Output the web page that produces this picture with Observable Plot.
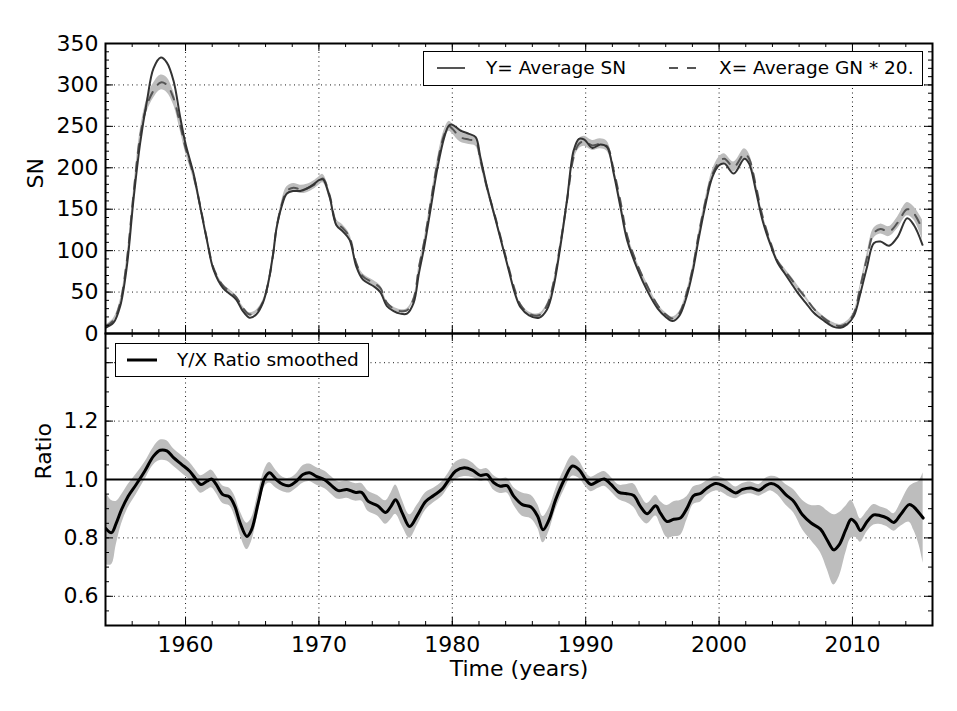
<!DOCTYPE html>
<html><head><meta charset="utf-8">
<script src="https://cdn.jsdelivr.net/npm/d3@7"></script>
<script src="https://cdn.jsdelivr.net/npm/@observablehq/plot@0.6"></script>
<style>
body{margin:0;background:#fff;}
#wrap{position:relative;width:957px;height:711px;font-family:"DejaVu Sans",sans-serif;overflow:hidden;}
#top,#bot{position:absolute;left:0;}
#top{top:0}
#bot{top:333px}
.legend{position:absolute;background:#fff;border:1.5px solid #000;box-sizing:border-box;font-size:18.5px;color:#000;}
.legend span{position:absolute;top:0;line-height:31px;white-space:pre;}
.legend svg{position:absolute;left:0;top:0;}
</style></head><body>
<div id="wrap">
  <div id="top"></div>
  <div id="bot"></div>
  <div class="legend" style="left:423px;top:51px;width:500px;height:35px;">
    <svg width="500" height="35"><line x1="13" x2="41" y1="16" y2="16" stroke="#555" stroke-width="2"/>
    <line x1="245" x2="272" y1="16" y2="16" stroke="#555" stroke-width="2" stroke-dasharray="9,9"/></svg>
    <span style="left:62px">Y= Average SN</span>
    <span style="left:295px">X= Average GN * 20.</span>
  </div>
  <div class="legend" style="left:115px;top:343px;width:254px;height:34px;">
    <svg width="254" height="34"><line x1="11" x2="41" y1="16" y2="16" stroke="#000" stroke-width="3"/></svg>
    <span style="left:61px">Y/X Ratio smoothed</span>
  </div>
</div>
<script>
// ---- data: top panel (SN and GN*20) ----
const years = [
 1954.0,1954.6,1955.1,1955.6,1956.1,1956.6,1957.1,1957.6,1958.15,1958.6,
 1959.1,1959.6,1960.0,1960.6,1961.1,1961.6,1962.1,1962.8,1963.3,1963.8,
 1964.3,1964.8,1965.3,1965.8,1966.2,1966.6,1966.8,1967.2,1967.6,1968.1,
 1968.6,1969.1,1969.6,1970.0,1970.3,1970.8,1971.3,1971.8,1972.3,1972.8,
 1973.3,1974.1,1974.6,1975.1,1975.6,1976.1,1976.6,1977.1,1977.5,1977.9,
 1978.4,1978.9,1979.4,1979.75,1980.0,1980.6,1981.25,1981.75,1982.1,1982.6,
 1983.25,1983.9,1984.25,1984.7,1985.1,1985.75,1986.5,1987.1,1987.6,1988.1,
 1988.6,1989.1,1989.5,1989.9,1990.5,1991.1,1991.6,1992.1,1992.6,1993.1,
 1993.9,1994.6,1995.4,1996.0,1996.5,1997.0,1997.5,1998.0,1998.5,1999.0,
 1999.5,2000.0,2000.4,2001.1,2001.9,2002.25,2002.75,2003.25,2003.9,2004.4,
 2004.9,2005.4,2005.9,2006.5,2007.1,2007.9,2008.6,2009.1,2009.6,2010.1,
 2010.6,2011.1,2011.6,2012.1,2012.75,2013.4,2014.1,2014.6,2015.25];
const snAvg = [
 7,13,33,81,162,230,280,320,333,327,
 305,261,229,193,153,113,77,55,48,41,
 27,19,23,37,61,100,125,153,169,172,
 172,175,180,185,186,165,131,123,113,81,
 65,57,50,33,27,24,24,37,73,105,
 153,201,237,251,252,245,241,237,213,177,
 137,97,75,48,32,22,19,29,57,105,
 161,221,235,234,224,228,225,193,153,113,
 77,52,30,20,15,21,41,73,117,157,
 189,203,205,193,211,205,173,137,105,85,
 73,61,49,37,25,15,8,7,11,21,
 49,81,109,111,106,117,139,131,107];
const gnAvg20 = [
 8,16,37,88,168,238,275,293,303,300,
 284,252,224,191,154,114,79,58,51,44,
 31,23,26,38,61,99,125,155,172,176,
 174,175,179,184,187,167,134,127,116,85,
 69,61,55,37,30,27,28,42,80,111,
 160,207,240,250,247,237,234,232,210,176,
 139,99,78,52,35,24,22,34,62,108,
 160,213,229,232,227,229,226,197,160,119,
 82,58,34,23,18,24,45,77,122,161,
 192,207,211,201,217,211,179,142,108,87,
 76,66,55,43,30,18,11,9,13,24,
 57,92,121,126,123,134,150,145,125];
const gnErr = [
 2,2,3,4,5,7,8,9,9,9,
 8,7,6,5,4,3,3,2,2,2,
 2,2,2,2,2,3,3,4,5,5,
 5,5,5,5,5,5,4,4,4,3,
 3,3,3,2,2,2,2,2,3,3,
 4,5,6,6,6,6,6,6,5,4,
 4,3,3,2,2,2,2,2,2,3,
 4,5,6,6,6,6,6,5,4,3,
 3,3,2,2,2,2,2,3,3,4,
 5,6,6,6,6,6,5,4,3,3,
 3,3,3,2,2,2,2,2,2,2,
 3,5,6,6,6,7,8,8,12];

// ---- data: bottom panel (smoothed ratio) ----
const ratioYears = [
 1954.0,1954.45,1954.8,1955.2,1955.7,1956.3,1956.95,1957.6,1958.1,1958.6,
 1959.1,1959.7,1960.3,1960.7,1961.15,1961.6,1961.95,1962.3,1962.8,1963.3,
 1963.7,1964.1,1964.6,1964.95,1965.45,1965.95,1966.3,1966.8,1967.3,1967.8,
 1968.3,1968.8,1969.3,1969.8,1970.45,1970.95,1971.45,1972.1,1972.7,1973.2,
 1973.7,1974.4,1975.0,1975.4,1975.75,1976.25,1976.8,1977.4,1978.0,1978.6,
 1979.25,1979.75,1980.25,1980.9,1981.5,1982.1,1982.6,1983.1,1983.6,1984.1,
 1984.6,1985.25,1985.9,1986.4,1986.8,1987.25,1987.75,1988.4,1989.0,1989.5,
 1990.0,1990.4,1990.9,1991.4,1991.9,1992.5,1993.0,1993.6,1994.1,1994.6,
 1995.25,1995.6,1996.1,1996.6,1997.1,1997.6,1998.1,1998.6,1999.1,1999.75,
 2000.25,2000.75,2001.25,2001.75,2002.4,2003.0,2003.5,2003.9,2004.4,2005.0,
 2005.6,2006.25,2006.9,2007.6,2008.1,2008.6,2009.0,2009.5,2009.9,2010.25,
 2010.6,2011.1,2011.6,2012.1,2012.6,2013.1,2013.6,2014.25,2014.6,2015.0,2015.3];
const ratio = [
 0.833,0.818,0.85,0.897,0.943,0.983,1.029,1.08,1.10,1.098,
 1.075,1.052,1.029,1.006,0.983,0.994,1.002,0.983,0.948,0.94,
 0.908,0.85,0.805,0.828,0.92,1.006,1.023,1.0,0.983,0.979,
 0.994,1.017,1.023,1.011,0.998,0.979,0.962,0.966,0.956,0.956,
 0.925,0.91,0.887,0.908,0.931,0.885,0.839,0.879,0.925,0.945,
 0.968,1.0,1.029,1.04,1.032,1.014,1.017,0.989,0.977,0.979,
 0.943,0.914,0.906,0.874,0.828,0.862,0.931,1.0,1.046,1.034,
 1.0,0.983,0.994,1.002,0.983,0.956,0.952,0.945,0.908,0.883,
 0.91,0.885,0.856,0.864,0.868,0.902,0.945,0.952,0.971,0.986,
 0.98,0.966,0.954,0.966,0.971,0.963,0.979,0.986,0.977,0.948,
 0.925,0.879,0.851,0.83,0.793,0.759,0.776,0.828,0.864,0.851,
 0.825,0.856,0.879,0.876,0.868,0.853,0.879,0.914,0.906,0.885,0.868];
const ratioErr = [
 0.125,0.11,0.075,0.05,0.04,0.035,0.03,0.03,0.035,0.035,
 0.03,0.03,0.03,0.03,0.03,0.03,0.03,0.03,0.03,0.03,
 0.035,0.04,0.045,0.04,0.035,0.03,0.035,0.03,0.025,0.025,
 0.025,0.03,0.03,0.03,0.03,0.03,0.03,0.03,0.03,0.03,
 0.035,0.035,0.04,0.045,0.05,0.045,0.04,0.035,0.03,0.025,
 0.025,0.025,0.03,0.03,0.025,0.02,0.02,0.025,0.025,0.025,
 0.03,0.04,0.04,0.04,0.045,0.04,0.035,0.035,0.035,0.03,
 0.025,0.025,0.025,0.025,0.025,0.025,0.03,0.04,0.04,0.035,
 0.035,0.04,0.055,0.06,0.06,0.04,0.03,0.03,0.025,0.025,
 0.025,0.025,0.02,0.02,0.02,0.02,0.025,0.025,0.03,0.035,
 0.04,0.05,0.06,0.08,0.1,0.12,0.11,0.08,0.065,0.05,
 0.04,0.035,0.035,0.03,0.03,0.03,0.04,0.06,0.08,0.11,0.155];

// ---- ticks ----
const xMajor = [1960, 1970, 1980, 1990, 2000, 2010];
const xMinor = d3.range(1954, 2017, 2);
const snTicks = [0, 50, 100, 150, 200, 250, 300, 350];
const snGrid = [50, 100, 150, 200, 250, 300];
const snMinor = d3.range(0, 351, 10);
const ratioTicks = [0.6, 0.8, 1.0, 1.2];
const ratioGrid = [0.6, 0.8, 1.0, 1.2, 1.4];
const ratioMinor = d3.range(0.5, 1.5001, 0.05);

const topRows = years.map((y, i) => ({year: y, sn: snAvg[i], gn: gnAvg20[i], err: gnErr[i]}));
const ratioRows = ratioYears.map((y, i) => ({year: y, r: ratio[i], err: ratioErr[i]}));

const W = 957, ML = 105, MR = 25;
const PW = W - ML - MR;
const gridStyle = {stroke: "#000", strokeOpacity: 0.9, strokeWidth: 1, strokeDasharray: "1,3.5"};
const font = {fontFamily: "DejaVu Sans", fontSize: "22px", color: "black", background: "transparent", overflow: "visible"};

function frameTicks(PH) {
  return [
    Plot.tickX(xMinor, {x: d => d, insetTop: PH - 4, stroke: "black", strokeWidth: 1}),
    Plot.tickX(xMinor, {x: d => d, insetBottom: PH - 4, stroke: "black", strokeWidth: 1}),
    Plot.tickX(xMajor, {x: d => d, insetTop: PH - 8, stroke: "black", strokeWidth: 1}),
    Plot.tickX(xMajor, {x: d => d, insetBottom: PH - 8, stroke: "black", strokeWidth: 1})
  ];
}
function yTicks(minor, major) {
  return [
    Plot.tickY(minor, {y: d => d, insetRight: PW - 4, stroke: "black", strokeWidth: 1}),
    Plot.tickY(minor, {y: d => d, insetLeft: PW - 4, stroke: "black", strokeWidth: 1}),
    Plot.tickY(major, {y: d => d, insetRight: PW - 8, stroke: "black", strokeWidth: 1}),
    Plot.tickY(major, {y: d => d, insetLeft: PW - 8, stroke: "black", strokeWidth: 1})
  ];
}

// ---- top panel ----
const PH1 = 290;
const topPlot = Plot.plot({
  width: W, height: 334, marginLeft: ML, marginRight: MR, marginTop: 43, marginBottom: 1,
  style: font,
  x: {domain: [1954, 2016], axis: null},
  y: {domain: [0, 350]},
  marks: [
    Plot.gridX(xMajor, gridStyle),
    Plot.gridY(snGrid, gridStyle),
    Plot.areaY(topRows, {x: "year", y1: d => d.gn - d.err, y2: d => d.gn + d.err, fill: "#bdbdbd", curve: "catmull-rom", clip: true}),
    Plot.lineY(topRows, {x: "year", y: "gn", stroke: "#555", strokeWidth: 2, strokeDasharray: "9,9", curve: "catmull-rom", clip: true}),
    Plot.lineY(topRows, {x: "year", y: "sn", stroke: "#333", strokeWidth: 2, curve: "catmull-rom", clip: true}),
    ...frameTicks(PH1),
    ...yTicks(snMinor, snTicks),
    Plot.axisY(snTicks, {tickSize: 0, tickPadding: 7, label: null, tickFormat: d => String(d)}),
    Plot.text(["SN"], {text: d => d, frameAnchor: "left", dx: -70, rotate: -90}),
    Plot.frame({stroke: "black", strokeWidth: 2})
  ]
});
document.getElementById("top").appendChild(topPlot);

// ---- bottom panel ----
const PH2 = 292;
const botPlot = Plot.plot({
  width: W, height: 378, marginLeft: ML, marginRight: MR, marginTop: 0, marginBottom: 86,
  style: font,
  x: {domain: [1954, 2016]},
  y: {domain: [0.5, 1.5]},
  marks: [
    Plot.gridX(xMajor, gridStyle),
    Plot.gridY(ratioGrid, gridStyle),
    Plot.areaY(ratioRows, {x: "year", y1: d => d.r - d.err, y2: d => d.r + d.err, fill: "#bdbdbd", curve: "catmull-rom", clip: true}),
    Plot.ruleY([1.0], {stroke: "black", strokeWidth: 2}),
    Plot.lineY(ratioRows, {x: "year", y: "r", stroke: "black", strokeWidth: 3, curve: "catmull-rom", clip: true}),
    ...frameTicks(PH2),
    ...yTicks(ratioMinor, ratioGrid),
    Plot.axisY(ratioTicks, {tickSize: 0, tickPadding: 7, label: null, tickFormat: d3.format(".1f")}),
    Plot.axisX(xMajor, {tickSize: 0, tickPadding: 11, label: null, tickFormat: d => String(d)}),
    Plot.text(["Ratio"], {text: d => d, frameAnchor: "left", dx: -62, rotate: -90}),
    Plot.text(["Time (years)"], {text: d => d, frameAnchor: "bottom", dy: 50}),
    Plot.frame({stroke: "black", strokeWidth: 2})
  ]
});
document.getElementById("bot").appendChild(botPlot);
</script>
</body></html>
